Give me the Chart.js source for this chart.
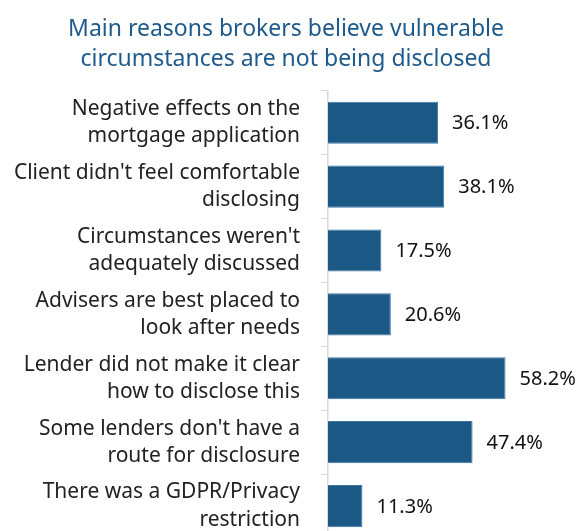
<!DOCTYPE html>
<html>
<head>
<meta charset="utf-8">
<script src="https://cdn.jsdelivr.net/npm/chart.js@4"></script>
<style>
  html, body { margin: 0; padding: 0; background: #fff; overflow: hidden; }
  canvas { display: block; }
</style>
</head>
<body>
<canvas id="myChart" width="584" height="538"></canvas>
<script>
const titleLines = ["Main reasons brokers believe vulnerable", "circumstances are not being disclosed"];
const reasons = [
  ["Negative effects on the", "mortgage application"],
  ["Client didn't feel comfortable", "disclosing"],
  ["Circumstances weren't", "adequately discussed"],
  ["Advisers are best placed to", "look after needs"],
  ["Lender did not make it clear", "how to disclose this"],
  ["Some lenders don't have a", "route for disclosure"],
  ["There was a GDPR/Privacy", "restriction"]
];
const shares = [36.1, 38.1, 17.5, 20.6, 58.2, 47.4, 11.3];

const FONT = "'Noto Sans', sans-serif";

// value labels to the right of each bar
const valueLabels = {
  id: "valueLabels",
  afterDatasetsDraw(chart) {
    const ctx = chart.ctx;
    const meta = chart.getDatasetMeta(0);
    ctx.save();
    ctx.font = "20px " + FONT;
    ctx.fillStyle = "#111";
    ctx.textAlign = "left";
    ctx.textBaseline = "middle";
    meta.data.forEach((bar, i) => {
      ctx.fillText(shares[i].toFixed(1) + "%", bar.x + 14, bar.y + 1);
    });
    ctx.restore();
  }
};

const ctx = document.getElementById("myChart").getContext("2d");
const chart = new Chart(ctx, {
  type: "bar",
  data: {
    labels: reasons,
    datasets: [{
      data: shares,
      backgroundColor: "#1b5886",
      borderColor: "#3f78a6",
      borderWidth: 1,
      categoryPercentage: 0.66,
      barPercentage: 1
    }]
  },
  options: {
    responsive: false,
    indexAxis: "y",
    animation: false,
    layout: { padding: { left: 0, right: 12, top: 0, bottom: 0 } },
    plugins: {
      legend: { display: false },
      tooltip: { enabled: false },
      title: {
        display: true,
        text: titleLines,
        color: "#1f5a8c",
        font: { family: FONT, size: 23, weight: "normal", lineHeight: 1.3 },
        padding: { top: 15, bottom: 16 }
      }
    },
    scales: {
      x: {
        display: false,
        min: 0,
        max: 80
      },
      y: {
        afterFit(scale) {
          scale.width = 328;
          scale.paddingTop = 0;
          scale.paddingBottom = 0;
        },
        grid: {
          offset: true,
          drawOnChartArea: false,
          tickLength: 7,
          color: "#d9d9d9"
        },
        border: { display: true, color: "#d9d9d9", width: 1.5 },
        ticks: {
          color: "#222",
          padding: 21,
          font: { family: FONT, size: 21, lineHeight: 1.3 }
        }
      }
    }
  },
  plugins: [valueLabels]
});
</script>
</body>
</html>
